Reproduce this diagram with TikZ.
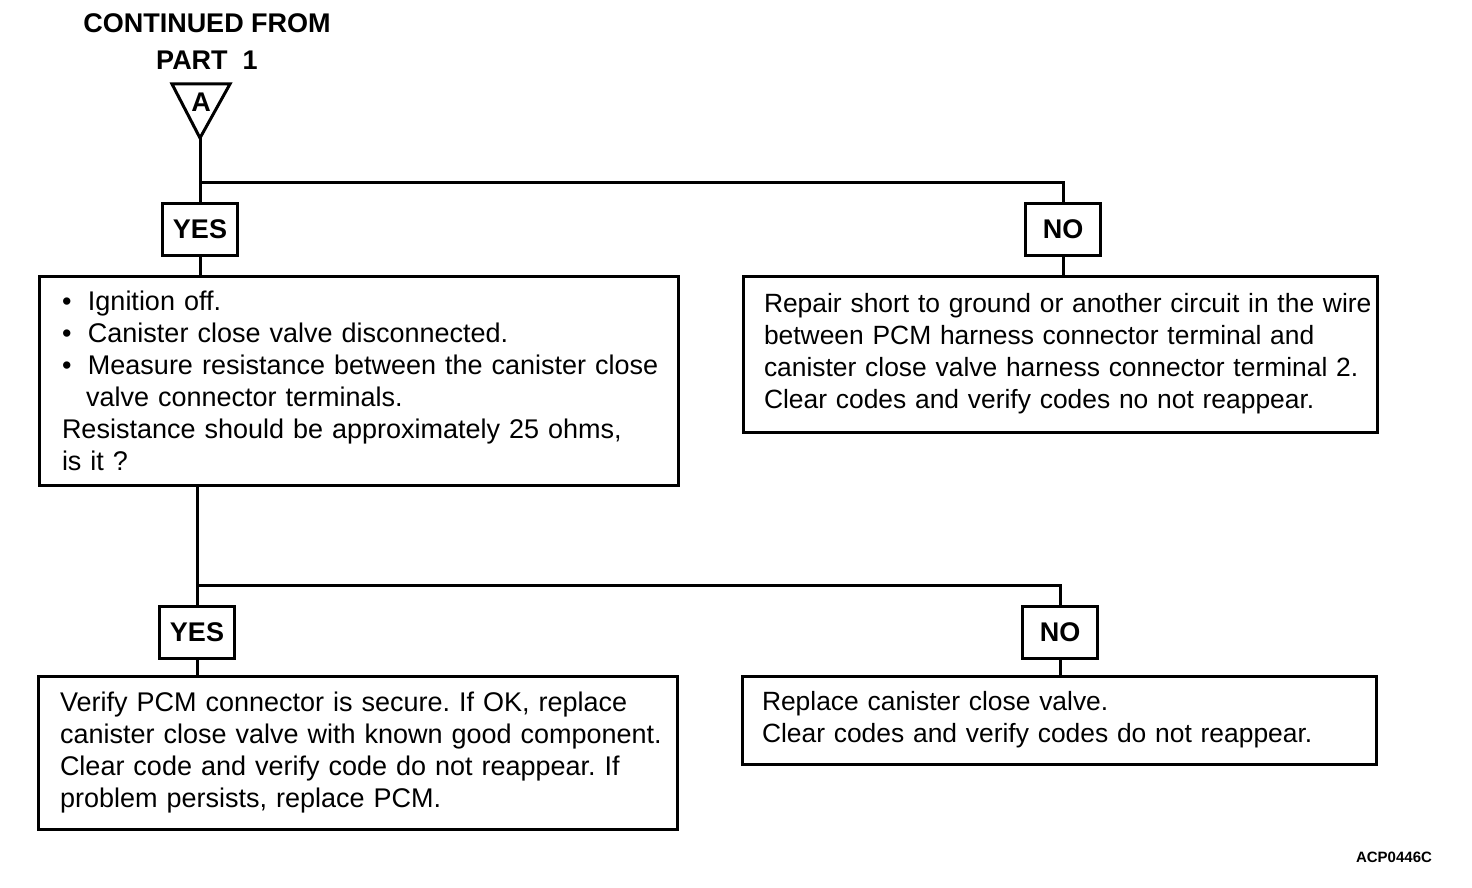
\documentclass[tikz,border=0pt]{standalone}
\usepackage{fontspec}
\setmainfont{Liberation Sans}
\frenchspacing

\begin{document}
\begin{tikzpicture}[x=1pt,y=-1pt]

    \tikzset{myBox/.style = {shape=rectangle,draw,line width=3pt,align=left,inner ysep=0pt,font=\fontsize{26.4}{32}\selectfont}}
    \tikzset{myBoxWide/.style = {myBox,font=\fontsize{27}{32}\selectfont}}
    \tikzset{answerBox/.style = {shape=rectangle,draw,line width=3pt,minimum width=75pt,minimum height=52pt,inner sep=0pt,font=\fontsize{27}{32}\selectfont\bfseries}}
    \tikzset{heading/.style = {inner sep=0pt,font=\fontsize{27}{32}\selectfont\bfseries}}
    \tikzset{flowLine/.style = {line width=3pt}}

    \useasboundingbox (0,0) rectangle (1472,888);

    \node [heading] (contFrom) at (207,23) {CONTINUED FROM};
    \node [heading] (part1) at (207,60) {PART\ \ 1};

    %connector A
    \node [heading] (markA) at (201,102) {A};
    \coordinate (apexA) at (200,138);
    \draw [flowLine,line join=miter] (172,84) -- (230,84) -- (apexA) -- cycle;


    %first check
    \node [answerBox] (yes1) at (200,229) {YES};
    \node [answerBox] (no1) at (1063,229) {NO};
    \coordinate (split1) at (200,182);
    \draw [flowLine] (apexA)
        -- (yes1.north);
    \draw [flowLine] (split1)
        -| (no1.north);

    \node [myBoxWide,text width=593pt,inner xsep=23pt,minimum height=209pt] (check1) at (358.5,380.5)
        {\makebox[26pt][l]{\textbullet}Ignition off.\\
         \makebox[26pt][l]{\textbullet}Canister close valve disconnected.\\
         \mbox{\makebox[26pt][l]{\textbullet}Measure resistance between the canister close}\\
         \hspace*{24pt}valve connector terminals.\\
         Resistance should be approximately 25 ohms,\\
         is it ?};
    \draw [flowLine] (yes1.south)
        -- (yes1 |- check1.north);

    \node [myBox,text width=592pt,inner xsep=21pt,minimum height=156pt] (repair1) at (1060,354)
        {\mbox{Repair short to ground or another circuit in the wire}\\
         between PCM harness connector terminal and\\
         \mbox{canister close valve harness connector terminal 2.}\\
         Clear codes and verify codes no not reappear.};
    \draw [flowLine] (no1.south)
        -- (no1 |- repair1.north);


    %second check
    \node [answerBox] (yes2) at (197,632) {YES};
    \node [answerBox] (no2) at (1060,632) {NO};
    \coordinate (split2) at (197,585);
    \draw [flowLine] (yes2 |- check1.south)
        -- (yes2.north);
    \draw [flowLine] (split2)
        -| (no2.north);

    \node [myBoxWide,text width=595pt,inner xsep=22pt,minimum height=153pt] (verify1) at (357.5,752.5)
        {Verify PCM connector is secure. If OK, replace\\
         \mbox{canister close valve with known good component.}\\
         Clear code and verify code do not reappear. If\\
         problem persists, replace PCM.};
    \draw [flowLine] (yes2.south)
        -- (yes2 |- verify1.north);

    \node [myBox,text width=594pt,inner xsep=20pt,minimum height=88pt] (replace1) at (1059,720)
        {Replace canister close valve.\\
         Clear codes and verify codes do not reappear.};
    \draw [flowLine] (no2.south)
        -- (no2 |- replace1.north);


    \node [inner sep=0pt,font=\fontsize{15}{18}\selectfont\bfseries] (figCode) at (1394,857) {ACP0446C};

\end{tikzpicture}
\end{document}
